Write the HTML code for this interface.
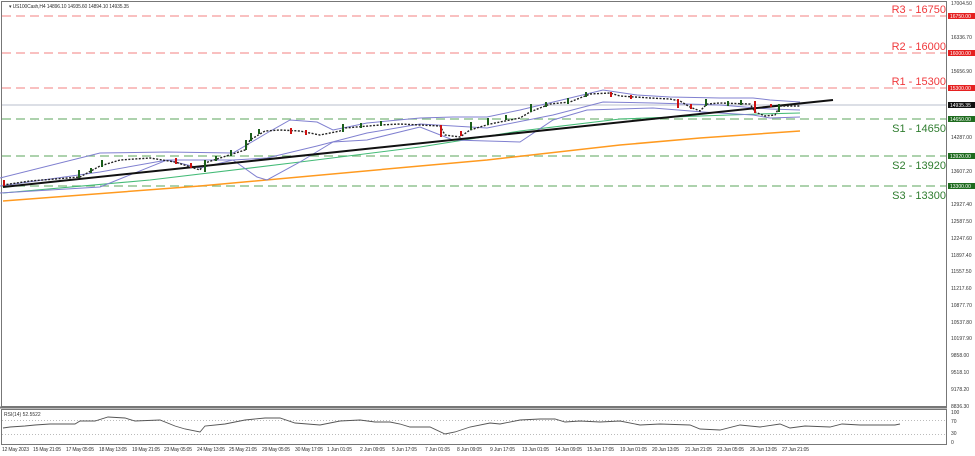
<!DOCTYPE html>
<html><head><meta charset="utf-8"><style>
html,body{margin:0;padding:0;background:#fff;}
svg{display:block;font-family:"Liberation Sans",sans-serif;}
.ax{font-size:5px;fill:#333;}
.tl{font-size:5px;fill:#333;}
</style></head><body>
<svg width="975" height="456" viewBox="0 0 975 456" xmlns="http://www.w3.org/2000/svg">
<rect width="975" height="456" fill="#fff"/>
<rect x="1.5" y="1.5" width="945" height="405" fill="none" stroke="#777" stroke-width="1"/>
<rect x="1.5" y="409.5" width="945" height="35" fill="none" stroke="#777" stroke-width="1"/>
<line x1="0" y1="407.5" x2="947" y2="407.5" stroke="#777" stroke-width="2"/>
<text x="9" y="8" font-size="5" fill="#333" textLength="120">▾ US100Cash,H4  14896.10 14935.60 14894.10 14935.35</text>

<g stroke-dasharray="9,5" stroke-width="1.2" fill="none">
<line x1="2" y1="16" x2="946" y2="16" stroke="#f59a9a"/>
<line x1="2" y1="53" x2="946" y2="53" stroke="#f59a9a"/>
<line x1="2" y1="88" x2="946" y2="88" stroke="#f59a9a"/>
<line x1="2" y1="119" x2="946" y2="119" stroke="#7cb87c"/>
<line x1="2" y1="156" x2="946" y2="156" stroke="#7cb87c"/>
<line x1="2" y1="186" x2="946" y2="186" stroke="#7cb87c"/>
</g>
<line x1="2" y1="105" x2="946" y2="105" stroke="#c8ccd6" stroke-width="1.2"/>
<g font-size="11" text-anchor="end">
<text x="946" y="13" fill="#f0393c">R3 - 16750</text>
<text x="946" y="50" fill="#f0393c">R2 - 16000</text>
<text x="946" y="85" fill="#f0393c">R1 - 15300</text>
<text x="946" y="132" fill="#2f7d2f">S1 - 14650</text>
<text x="946" y="169" fill="#2f7d2f">S2 - 13920</text>
<text x="946" y="199" fill="#2f7d2f">S3 - 13300</text>
</g>

<polyline fill="none" stroke="#ff9a1f" stroke-width="1.5" points="3,201 200,186 420,166 487,160 620,145 700,138 800,131"/>
<polyline fill="none" stroke="#44bb77" stroke-width="1.1" points="3,193 150,180 300,162 420,147 520,131 620,119 700,116 760,114 800,113"/>
<polyline fill="none" stroke="#8080d0" stroke-width="1" points="0,178 100,153 167,152 233,153 267,133 290,120 317,122 333,130 367,123 420,118 453,117 487,117 520,110 570,98 603,90 637,95 670,97 720,98 753,98 770,100 800,102"/>
<polyline fill="none" stroke="#8080d0" stroke-width="1" points="0,193 100,187 167,160 200,168 233,160 257,177 267,180 300,162 333,142 367,140 420,127 453,140 520,142 553,120 587,110 653,108 703,112 753,115 770,118 800,117"/>
<polyline fill="none" stroke="#8080d0" stroke-width="1" points="0,186 100,172 167,160 233,160 267,158 317,146 367,133 420,124 487,128 553,115 603,102 653,103 720,105 770,109 800,110"/>
<line x1="3" y1="187" x2="833" y2="100" stroke="#111" stroke-width="2"/>

<polyline fill="none" stroke="#222" stroke-width="1.4" stroke-dasharray="2,1.5" points="3,185 30,181 80,177 100,166 120,160 150,158 175,162 200,170 205,163 220,158 245,150 250,140 265,131 280,130 300,131 320,135 340,131 345,128 380,125 400,124 420,125 440,126 445,135 460,137 470,130 490,124 520,118 530,112 550,104 570,102 590,94 610,93 620,96 650,98 670,99 680,101 690,107 700,111 707,104 720,103 750,104 755,112 765,116 775,115 780,106 800,106"/>
<g fill="#1a5e1a">
<rect x="78" y="170" width="2" height="8"/><rect x="101" y="160" width="2" height="7"/><rect x="90" y="168" width="2" height="5"/>
<rect x="204" y="160" width="2" height="12"/><rect x="215" y="156" width="2" height="5"/><rect x="230" y="150" width="2" height="6"/>
<rect x="245" y="140" width="2" height="10"/><rect x="250" y="133" width="2" height="8"/><rect x="258" y="129" width="2" height="5"/>
<rect x="342" y="124" width="2" height="8"/><rect x="360" y="123" width="2" height="5"/><rect x="380" y="121" width="2" height="5"/>
<rect x="470" y="122" width="2" height="8"/><rect x="487" y="118" width="2" height="7"/><rect x="505" y="115" width="2" height="5"/>
<rect x="530" y="104" width="2" height="8"/><rect x="545" y="102" width="2" height="5"/><rect x="567" y="98" width="2" height="6"/><rect x="585" y="92" width="2" height="5"/>
<rect x="705" y="99" width="2" height="7"/><rect x="727" y="101" width="2" height="5"/><rect x="740" y="100" width="2" height="5"/>
<rect x="778" y="104" width="2" height="8"/>
</g>
<g fill="#cc1111">
<rect x="3" y="180" width="2" height="6"/><rect x="175" y="158" width="2" height="6"/><rect x="190" y="163" width="2" height="5"/>
<rect x="290" y="128" width="2" height="6"/><rect x="305" y="130" width="2" height="5"/><rect x="440" y="125" width="2" height="12"/>
<rect x="460" y="131" width="2" height="5"/><rect x="610" y="92" width="2" height="5"/><rect x="630" y="95" width="2" height="4"/>
<rect x="677" y="99" width="2" height="9"/><rect x="690" y="104" width="2" height="5"/><rect x="754" y="101" width="2" height="12"/>
<rect x="770" y="104" width="2" height="3"/>
</g>

<g class="ax">
<text x="951" y="5">17004.50</text>
<text x="951" y="39">16336.70</text>
<text x="951" y="73">15656.90</text>
<text x="951" y="139">14287.00</text>
<text x="951" y="173">13607.20</text>
<text x="951" y="206">12927.40</text>
<text x="951" y="223">12587.50</text>
<text x="951" y="240">12247.60</text>
<text x="951" y="257">11897.40</text>
<text x="951" y="273">11557.50</text>
<text x="951" y="290">11217.60</text>
<text x="951" y="307">10877.70</text>
<text x="951" y="324">10537.80</text>
<text x="951" y="340">10197.90</text>
<text x="951" y="357">9858.00</text>
<text x="951" y="374">9518.10</text>
<text x="951" y="391">9178.20</text>
<text x="951" y="408">8836.30</text>
<text x="951" y="414">100</text>
<text x="951" y="423">70</text>
<text x="951" y="435">30</text>
<text x="951" y="444">0</text>
</g>
<rect x="948" y="13" width="27" height="6" fill="#e52020"/>
<rect x="948" y="50" width="27" height="6" fill="#e52020"/>
<rect x="948" y="85" width="27" height="6" fill="#e52020"/>
<rect x="948" y="102" width="27" height="6" fill="#111"/>
<rect x="948" y="116" width="27" height="6" fill="#1e6b1e"/>
<rect x="948" y="153" width="27" height="6" fill="#1e6b1e"/>
<rect x="948" y="183" width="27" height="6" fill="#1e6b1e"/>
<g font-size="5" fill="#fff">
<text x="950" y="18">16750.00</text><text x="950" y="55">16000.00</text><text x="950" y="90">15300.00</text>
<text x="950" y="107">14935.35</text><text x="950" y="121">14650.00</text><text x="950" y="158">13920.00</text><text x="950" y="188">13300.00</text>
</g>

<text x="4" y="416" font-size="5" fill="#333">RSI(14) 52.5522</text>
<line x1="2" y1="420.5" x2="946" y2="420.5" stroke="#bbb" stroke-dasharray="1,2"/>
<line x1="2" y1="434.5" x2="946" y2="434.5" stroke="#bbb" stroke-dasharray="1,2"/>
<polyline fill="none" stroke="#555" stroke-width="0.9" points="3,428 10,427 25,426 35,425 50,424 75,424 80,421 95,421 108,417 125,418 135,421 160,420 175,426 185,429 200,432 205,426 225,424 245,420 265,418 280,418 295,423 320,425 340,421 360,420 375,422 390,422 400,424 410,427 430,427 445,434 455,432 470,427 490,423 500,424 520,420 540,419 555,419 565,422 580,421 600,422 620,421 640,425 660,424 690,425 700,429 720,430 740,425 760,427 780,424 790,428 805,426 830,427 842,424 860,425 895,425 900,424"/>

<g class="tl">
<text x="2" y="451" textLength="27">12 May 2023</text>
<text x="33" y="451" textLength="28">15 May 21:05</text>
<text x="66" y="451" textLength="28">17 May 05:05</text>
<text x="99" y="451" textLength="28">18 May 13:05</text>
<text x="132" y="451" textLength="28">19 May 21:05</text>
<text x="164" y="451" textLength="28">23 May 05:05</text>
<text x="197" y="451" textLength="28">24 May 13:05</text>
<text x="229" y="451" textLength="28">25 May 21:05</text>
<text x="262" y="451" textLength="28">29 May 05:05</text>
<text x="295" y="451" textLength="28">30 May 17:05</text>
<text x="327" y="451" textLength="25">1 Jun 01:05</text>
<text x="360" y="451" textLength="25">2 Jun 09:05</text>
<text x="392" y="451" textLength="25">5 Jun 17:05</text>
<text x="425" y="451" textLength="25">7 Jun 01:05</text>
<text x="457" y="451" textLength="25">8 Jun 09:05</text>
<text x="490" y="451" textLength="25">9 Jun 17:05</text>
<text x="522" y="451" textLength="27">13 Jun 01:05</text>
<text x="555" y="451" textLength="27">14 Jun 09:05</text>
<text x="587" y="451" textLength="27">15 Jun 17:05</text>
<text x="620" y="451" textLength="27">19 Jun 01:05</text>
<text x="652" y="451" textLength="27">20 Jun 13:05</text>
<text x="685" y="451" textLength="27">21 Jun 21:05</text>
<text x="717" y="451" textLength="27">23 Jun 05:05</text>
<text x="750" y="451" textLength="27">26 Jun 13:05</text>
<text x="782" y="451" textLength="27">27 Jun 21:05</text>
</g>
</svg>
</body></html>
